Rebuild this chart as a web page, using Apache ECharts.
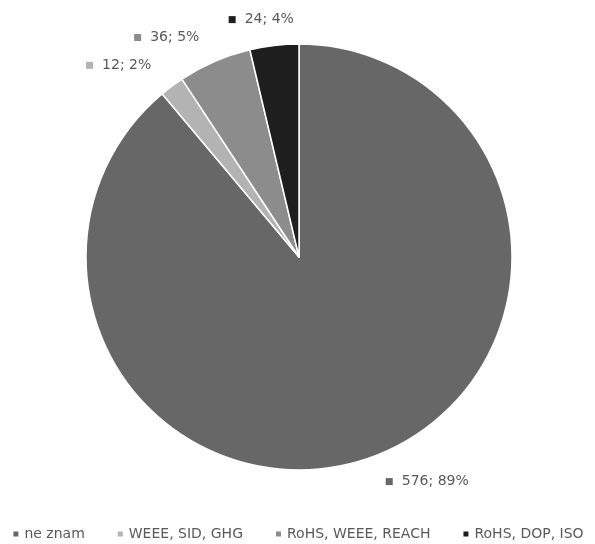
<!DOCTYPE html>
<html>
<head>
<meta charset="utf-8">
<script src="https://cdn.jsdelivr.net/npm/echarts@6/dist/echarts.min.js"></script>
<style>
  html, body { margin: 0; padding: 0; background: #ffffff; }
  #chart { width: 595px; height: 544px; }
</style>
</head>
<body>
<div id="chart"></div>
<script>
// Categories, counts and the percentage shown beside each count
const categories = ['ne znam', 'WEEE, SID, GHG', 'RoHS, WEEE, REACH', 'RoHS, DOP, ISO'];
const counts = [576, 12, 36, 24];
const percents = [89, 2, 5, 4];
const colors = ['#676767', '#b3b3b3', '#8c8c8c', '#1e1e1e'];

const textColor = '#595959';
const fontFamily = 'DejaVu Sans';

// Rich-text styles: one square marker per slice colour, plus the label text
const rich = { t: { color: textColor, fontSize: 14, fontFamily: fontFamily, padding: [0, 0, 0, 9] } };
colors.forEach(function (c, i) {
  rich['m' + i] = { width: 7, height: 7, backgroundColor: c };
});

const pieData = categories.map(function (name, i) {
  return { name: name, value: counts[i], itemStyle: { color: colors[i] } };
});

const chart = echarts.init(document.getElementById('chart'), null, { renderer: 'canvas' });
chart.setOption({
  backgroundColor: '#ffffff',
  animation: false,
  legend: {
    bottom: -2,
    left: 'center',
    icon: 'rect',
    itemWidth: 7,
    itemHeight: 7,
    itemGap: 31,
    textStyle: { color: textColor, fontSize: 14, fontFamily: fontFamily },
    data: categories
  },
  series: [{
    type: 'pie',
    center: [299, 257],
    radius: 213,
    startAngle: 90,
    clockwise: true,
    avoidLabelOverlap: false,
    itemStyle: { borderColor: '#ffffff', borderWidth: 1.5 },
    emphasis: { disabled: true },
    label: {
      show: true,
      position: 'outside',
      distanceToLabelLine: 5,
      formatter: function (p) {
        return '{m' + p.dataIndex + '|}{t|' + counts[p.dataIndex] + '; ' + percents[p.dataIndex] + '%}';
      },
      rich: rich
    },
    labelLine: { show: false, length: 26, length2: 0 },
    labelLayout: function (p) {
      // A label sitting almost straight above the centre is centred on its anchor
      const pts = p.labelLinePoints;
      if (pts && pts.length && Math.abs(pts[pts.length - 1][0] - 299) < 40) {
        return { x: pts[pts.length - 1][0] - 10, align: 'center' };
      }
      return {};
    },
    data: pieData
  }]
});
</script>
</body>
</html>
